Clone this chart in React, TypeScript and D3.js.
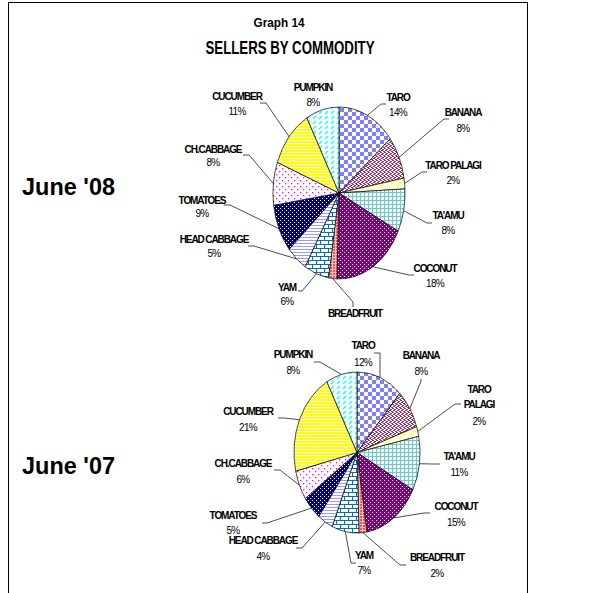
import React from 'react';
import * as d3 from 'd3';

// ---------- data ----------
const categories = ['TARO', 'BANANA', 'TARO PALAGI', "TA'AMU", 'COCONUT', 'BREADFRUIT', 'YAM', 'HEAD CABBAGE', 'TOMATOES', 'CH.CABBAGE', 'CUCUMBER', 'PUMPKIN'];
const values08 = [14, 8, 2, 8, 18, 2, 6, 5, 9, 8, 11, 8];
const values07 = [12, 8, 2, 11, 15, 2, 7, 4, 5, 6, 21, 8];
const hiddenPct08 = ['BREADFRUIT'];
const titleLines = ['Graph 14', 'SELLERS BY COMMODITY'];
const pieTitles = ["June '08", "June '07"];

// ---------- layout (label positions: x, name-y, pct-y, attach x,y, elbow x,y) ----------
const layout08: number[][] = [
  [398, 97, 112, 386, 104, 381, 104],
  [463, 112, 128, 449, 119, 444, 119],
  [453, 165, 180, 427, 172, 422, 172],
  [448, 215, 230, 432, 223, 427, 223],
  [435, 268, 283, 414, 275, 409, 275],
  [355, 313, 328, 353, 307, 353, 302],
  [287, 287, 301, 298, 291, 302, 291],
  [214, 239, 253, 248, 246, 254, 246],
  [202, 200, 213, 224, 205, 230, 205],
  [213, 149, 162, 243, 155, 249, 155],
  [237, 96, 111, 260, 103, 266, 103],
  [313, 87, 102, NaN, NaN, NaN, NaN],
];
const layout07: number[][] = [
  [363, 345, 362, 374, 353, 380, 353],
  [421, 355, 371, 421, 379, 421, 381],
  [479, 389, 421, 461, 404, 455, 404],
  [459, 456, 472, 440, 464, 434, 464],
  [456, 506, 522, 430, 513, 424, 513],
  [437, 557, 573, 406, 565, 400, 565],
  [364, 555, 570, 356, 563, 351, 563],
  [263, 540, 556, 296, 548, 302, 548],
  [233, 515, 530, 262, 523, 267, 523],
  [243, 463, 479, 274, 470, 280, 470],
  [248, 411, 427, 278, 418, 284, 418],
  [293, 354, 370, 314, 362, 320, 362],
];
const split07: Record<string, string[]> = { 'TARO PALAGI': ['TARO', 'PALAGI'] };

const patternIds = ['p-taro', 'p-banana', 'p-tpalagi', 'p-taamu', 'p-coconut', 'p-breadfruit', 'p-yam', 'p-hcabbage', 'p-tomatoes', 'p-chcabbage', 'p-cucumber', 'p-pumpkin'];

const FONT = "'Liberation Sans', Arial, sans-serif";

function Patterns() {
  return (
    <defs>
      <pattern id="p-taro" width={8} height={8} patternUnits="userSpaceOnUse">
        <rect width={8} height={8} fill="#fff" />
        <rect x={0} y={0} width={4} height={4} fill="#8080ff" />
        <rect x={4} y={4} width={4} height={4} fill="#8080ff" />
      </pattern>
      <pattern id="p-banana" width={4} height={4} patternUnits="userSpaceOnUse">
        <rect width={4} height={4} fill="#fff" />
        <rect x={0} y={0} width={2} height={1} fill="#993366" />
        <rect x={2} y={1} width={2} height={1} fill="#993366" />
        <rect x={1} y={2} width={2} height={1} fill="#993366" />
        <rect x={3} y={3} width={1} height={1} fill="#993366" />
        <rect x={0} y={3} width={1} height={1} fill="#993366" />
      </pattern>
      <pattern id="p-tpalagi" width={6} height={6} patternUnits="userSpaceOnUse" patternTransform="rotate(45)">
        <rect width={6} height={6} fill="#ffff99" />
        <rect x={0} y={0} width={3} height={6} fill="#fff" />
      </pattern>
      <pattern id="p-taamu" width={4} height={4} patternUnits="userSpaceOnUse">
        <rect width={4} height={4} fill="#fff" />
        <rect x={0} y={0} width={4} height={1} fill="#66cccc" />
        <rect x={0} y={0} width={1} height={4} fill="#66cccc" />
      </pattern>
      <pattern id="p-coconut" width={4} height={4} patternUnits="userSpaceOnUse">
        <rect width={4} height={4} fill="#800080" />
        <rect x={0} y={0} width={1} height={1} fill="#fff" />
        <rect x={2} y={2} width={1} height={1} fill="#fff" />
      </pattern>
      <pattern id="p-breadfruit" width={3} height={3} patternUnits="userSpaceOnUse">
        <rect width={3} height={3} fill="#ffc0c0" />
        <rect x={0} y={0} width={2} height={2} fill="#ff5050" />
      </pattern>
      <pattern id="p-yam" width={8} height={8} patternUnits="userSpaceOnUse">
        <rect width={8} height={8} fill="#fff" />
        <rect x={0} y={0} width={8} height={1} fill="#0070c0" />
        <rect x={0} y={4} width={8} height={1} fill="#0070c0" />
        <rect x={0} y={0} width={1} height={4} fill="#0070c0" />
        <rect x={4} y={4} width={1} height={4} fill="#0070c0" />
      </pattern>
      <pattern id="p-hcabbage" width={3} height={3} patternUnits="userSpaceOnUse">
        <rect width={3} height={3} fill="#fff" />
        <rect x={0} y={0} width={3} height={1} fill="#9999ff" />
      </pattern>
      <pattern id="p-tomatoes" width={4} height={4} patternUnits="userSpaceOnUse">
        <rect width={4} height={4} fill="#000080" />
        <rect x={0} y={0} width={1} height={1} fill="#fff" />
        <rect x={2} y={2} width={1} height={1} fill="#fff" />
      </pattern>
      <pattern id="p-chcabbage" width={6} height={6} patternUnits="userSpaceOnUse">
        <rect width={6} height={6} fill="#fff" />
        <rect x={0} y={0} width={1.3} height={1.3} fill="#ff00ff" />
        <rect x={3} y={3} width={1.3} height={1.3} fill="#ff00ff" />
      </pattern>
      <pattern id="p-cucumber" width={3} height={3} patternUnits="userSpaceOnUse">
        <rect width={3} height={3} fill="#fff" />
        <rect x={0} y={0} width={3} height={2} fill="#ffff00" />
      </pattern>
      <pattern id="p-pumpkin" width={6} height={5} patternUnits="userSpaceOnUse">
        <rect width={6} height={5} fill="#fff" />
        <line x1={1} y1={4} x2={4} y2={1} stroke="#00ffff" strokeWidth={1.3} />
      </pattern>
    </defs>
  );
}

type PieProps = {
  values: number[];
  layout: number[][];
  cx: number; cy: number; rx: number; ry: number;
  hidden: string[];
  split: Record<string, string[]>;
};

function EllipsePie({ values, layout, cx, cy, rx, ry, hidden, split }: PieProps) {
  const pie = d3.pie<number>().sort(null).value((d) => d);
  const arcs = pie(values);
  const pt = (a: number): [number, number] => [cx + rx * Math.sin(a), cy - ry * Math.cos(a)];
  const path = (s: number, e: number) => {
    const p0 = pt(s);
    const p1 = pt(e);
    const large = e - s > Math.PI ? 1 : 0;
    return `M${cx},${cy}L${p0[0]},${p0[1]}A${rx},${ry} 0 ${large} 1 ${p1[0]},${p1[1]}Z`;
  };
  return (
    <g>
      {arcs.map((a, i) => (
        <path key={'s' + i} d={path(a.startAngle, a.endAngle)} fill={`url(#${patternIds[i]})`} stroke="#000" strokeWidth={0.7} />
      ))}
      {arcs.map((a, i) => {
        const L = layout[i];
        if (isNaN(L[3])) return null;
        const edge = pt((a.startAngle + a.endAngle) / 2);
        const pts = [[L[3], L[4]], [L[5], L[6]], edge];
        return <polyline key={'l' + i} points={pts.map((p) => p.join(',')).join(' ')} fill="none" stroke="#000" strokeWidth={0.7} />;
      })}
      {arcs.map((a, i) => {
        const L = layout[i];
        const name = categories[i];
        const lines = split[name] || [name];
        return (
          <g key={'t' + i} fontFamily={FONT} textAnchor="middle">
            {lines.map((ln, k) => (
              <text key={k} x={L[0]} y={L[1] + k * 15 + 3.5} fontSize={10} fontWeight="bold" letterSpacing={-1.1}>{ln}</text>
            ))}
            {hidden.includes(name) ? null : (
              <text x={L[0]} y={L[2] + 3.5} fontSize={10} letterSpacing={-0.7}>{`${values[i]}%`}</text>
            )}
          </g>
        );
      })}
    </g>
  );
}

export default function App() {
  return (
    <svg width={607} height={593} style={{ position: 'absolute', left: 0, top: 0, background: '#fff' }}>
      <Patterns />
      <rect x={8.5} y={2.5} width={519} height={620} fill="#fff" stroke="#000" strokeWidth={1} />
      <text x={279} y={27} fontFamily={FONT} fontSize={13} fontWeight="bold" textAnchor="middle" textLength={51} lengthAdjust="spacingAndGlyphs">{titleLines[0]}</text>
      <text x={290} y={54} fontFamily={FONT} fontSize={18.5} fontWeight="bold" textAnchor="middle" textLength={169} lengthAdjust="spacingAndGlyphs">{titleLines[1]}</text>
      <text x={22} y={195} fontFamily={FONT} fontSize={24} fontWeight="bold" textLength={93} lengthAdjust="spacingAndGlyphs">{pieTitles[0]}</text>
      <text x={22} y={474} fontFamily={FONT} fontSize={24} fontWeight="bold" textLength={93} lengthAdjust="spacingAndGlyphs">{pieTitles[1]}</text>
      <EllipsePie values={values08} layout={layout08} cx={339} cy={193} rx={66} ry={86} hidden={hiddenPct08} split={{}} />
      <EllipsePie values={values07} layout={layout07} cx={357} cy={452.5} rx={63} ry={80.5} hidden={[]} split={split07} />
    </svg>
  );
}
